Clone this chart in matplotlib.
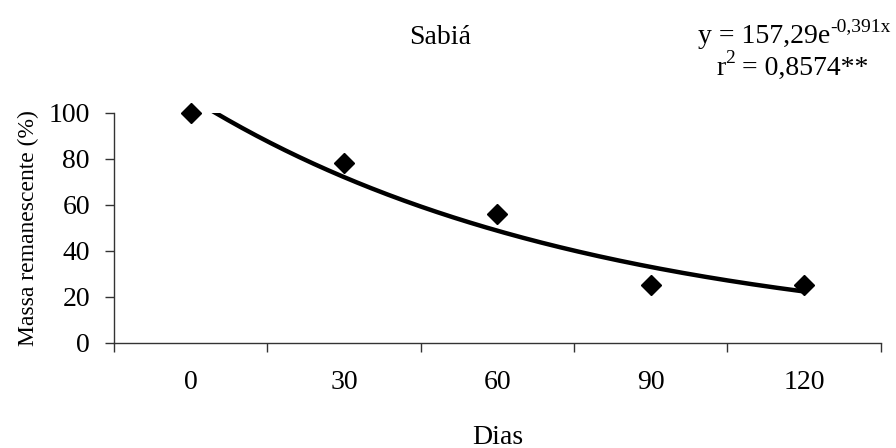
import numpy as np
import matplotlib
matplotlib.use("Agg")
import matplotlib.pyplot as plt

plt.rcParams['font.family'] = ['Liberation Serif', 'DejaVu Serif']

# Observed data
dias = ["0", "30", "60", "90", "120"]
massa = [100, 78, 56, 25, 25]

# Fitted exponential model (x = sampling index 1..5)
coef_a = 157.29
coef_b = -0.391

fig = plt.figure(figsize=(8.96, 4.48), dpi=100)
ax = fig.add_axes([0.1272, 0.2350, 0.8557, 0.5138])

pos = np.arange(1, len(dias) + 1)
ax.plot(pos, massa, linestyle='none', marker='D', markersize=10,
        color='black', zorder=3, clip_on=False)

xs = np.linspace(pos[0], pos[-1], 300)
ax.plot(xs, coef_a * np.exp(coef_b * xs), color='black', linewidth=3.2,
        solid_capstyle='butt', zorder=2)

ax.set_xlim(0.5, len(dias) + 0.5)
ax.set_ylim(0, 100)
ax.set_yticks(np.arange(0, 101, 20))
ax.set_xticks(pos)
ax.set_xticklabels(dias)
ax.set_xticks(np.arange(0.5, len(dias) + 1, 1), minor=True)

for s in ['top', 'right']:
    ax.spines[s].set_visible(False)
for s in ['left', 'bottom']:
    ax.spines[s].set_linewidth(1.0)
    ax.spines[s].set_color('#333333')

ax.tick_params(axis='x', which='major', length=0, pad=20, labelsize=20)
ax.tick_params(axis='x', which='minor', length=6.5, width=1.0,
               direction='out', color='#333333')
ax.tick_params(axis='y', length=6.5, width=1.0, direction='out', pad=10.8,
               labelsize=20, color='#333333')

ax.set_xlabel('Dias', fontsize=20, labelpad=21)
ax.set_ylabel('Massa remanescente (%)', fontsize=17, labelpad=7)

fig.text(440 / 896, 1 - 38 / 448, 'Sabiá', ha='center', va='center',
         fontsize=20)

# Regression equation: base text plus a raised exponent placed after it
eq_left = 698 / 896
base = fig.text(eq_left, 1 - 43 / 448, 'y = 157,29e', ha='left',
                va='baseline', fontsize=20)
fig.canvas.draw()
bb = base.get_window_extent(renderer=fig.canvas.get_renderer())
x_end = fig.transFigure.inverted().transform((bb.x1, bb.y0))[0]
fig.text(x_end, 1 - 31 / 448, '-0,391x', ha='left', va='baseline',
         fontsize=14)

r_base = fig.text(716 / 896, 1 - 75 / 448, 'r', ha='left', va='baseline',
                  fontsize=20)
fig.canvas.draw()
rb = r_base.get_window_extent(renderer=fig.canvas.get_renderer())
rx = fig.transFigure.inverted().transform((rb.x1, rb.y0))[0]
sup = fig.text(rx, 1 - 63 / 448, '2', ha='left', va='baseline', fontsize=14)
fig.canvas.draw()
sb = sup.get_window_extent(renderer=fig.canvas.get_renderer())
sx = fig.transFigure.inverted().transform((sb.x1, sb.y0))[0]
fig.text(sx, 1 - 75 / 448, ' = 0,8574**', ha='left', va='baseline',
         fontsize=20)

fig.savefig('out.png', dpi=100)
